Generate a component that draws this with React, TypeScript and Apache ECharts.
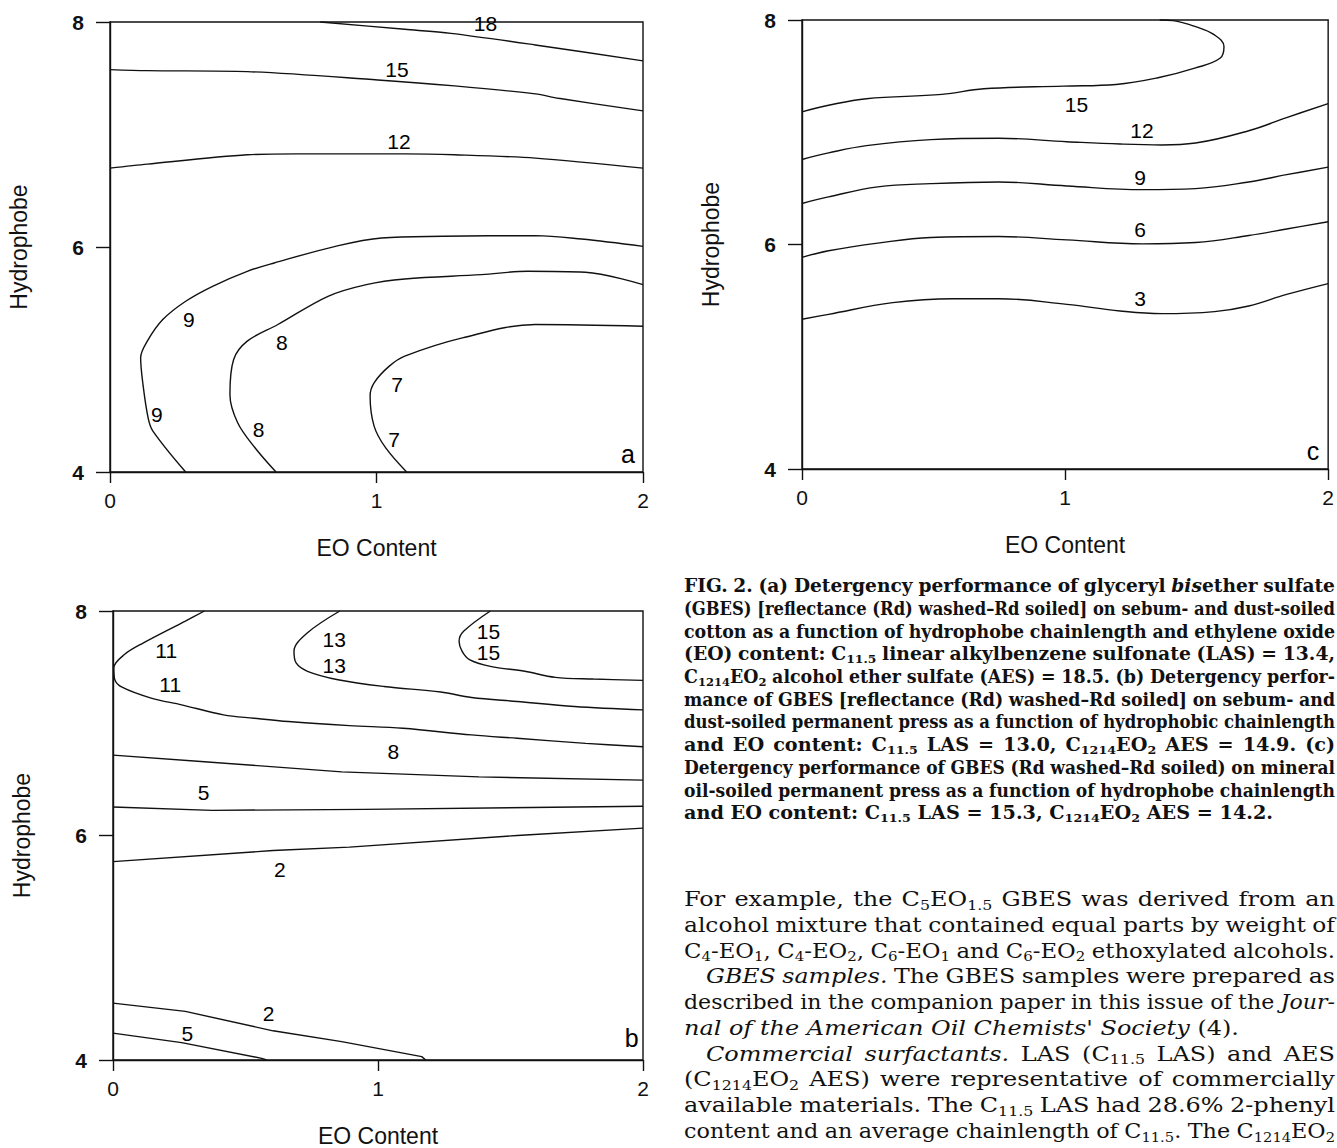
import React, { useEffect, useRef } from "react";
import * as echarts from "echarts";

// ---------------- DATA ----------------
const X_MIN = 0, X_MAX = 2, X_STEP = 1;
const Y_MIN = 4, Y_MAX = 8, Y_STEP = 2;
const X_NAME = "EO Content";
const Y_NAME = "Hydrophobe";

// Panel a contours [EO, hydrophobe]
const a18 = [[0.789, 8], [1.106, 7.935], [1.279, 7.899], [1.596, 7.796], [2, 7.654]];
const a15 = [[0, 7.577], [0.14, 7.568], [0.515, 7.559], [1.005, 7.485], [1.293, 7.432], [1.596, 7.361], [1.683, 7.322], [2, 7.21]];
const a12 = [[0, 6.701], [0.14, 6.737], [0.515, 6.82], [0.702, 6.828], [1.106, 6.828], [1.293, 6.82], [1.596, 6.79], [2, 6.701]];
const a9 = [[0.284, 4], [0.161, 4.364], [0.143, 4.482], [0.123, 4.793], [0.115, 5.015], [0.14, 5.163], [0.198, 5.355], [0.284, 5.518], [0.385, 5.651], [0.515, 5.784], [0.616, 5.858], [0.846, 6.006], [1.019, 6.08], [1.25, 6.095], [1.596, 6.101], [1.769, 6.071], [2, 6.006]];
const a8 = [[0.623, 4], [0.544, 4.216], [0.479, 4.438], [0.45, 4.689], [0.464, 5], [0.515, 5.163], [0.63, 5.311], [0.818, 5.562], [0.962, 5.666], [1.106, 5.716], [1.394, 5.754], [1.567, 5.784], [1.784, 5.775], [2, 5.666]];
const a7 = [[1.113, 4], [1.034, 4.216], [0.991, 4.408], [0.976, 4.675], [0.991, 4.793], [1.048, 4.941], [1.106, 5.03], [1.322, 5.192], [1.596, 5.311], [2, 5.296]];
const aLabels = [[1.409, 7.99, "18"], [1.077, 7.58, "15"], [1.084, 6.94, "12"], [0.296, 5.36, "9"], [0.176, 4.51, "9"], [0.645, 5.15, "8"], [0.558, 4.38, "8"], [1.077, 4.78, "7"], [1.066, 4.29, "7"]];

// Panel c contours
const c15 = [[0, 7.181], [0.101, 7.24], [0.245, 7.299], [0.532, 7.337], [0.691, 7.387], [0.993, 7.411], [1.194, 7.426], [1.353, 7.485], [1.496, 7.573], [1.59, 7.661], [1.604, 7.764], [1.568, 7.867], [1.496, 7.941], [1.41, 7.994], [1.36, 8]];
const c12 = [[0, 6.757], [0.101, 6.816], [0.245, 6.881], [0.489, 6.934], [0.748, 6.946], [1.007, 6.916], [1.209, 6.895], [1.367, 6.887], [1.496, 6.904], [1.698, 7.013], [1.842, 7.131], [2, 7.255]];
const c9 = [[0, 6.365], [0.101, 6.424], [0.288, 6.513], [0.489, 6.542], [0.748, 6.557], [1.007, 6.521], [1.295, 6.489], [1.496, 6.498], [1.698, 6.557], [1.842, 6.622], [2, 6.689]];
const c6 = [[0, 5.885], [0.101, 5.944], [0.288, 6.012], [0.489, 6.062], [0.748, 6.071], [1.007, 6.041], [1.295, 6.006], [1.496, 6.018], [1.698, 6.08], [1.842, 6.138], [2, 6.203]];
const c3 = [[0, 5.334], [0.101, 5.378], [0.345, 5.482], [0.576, 5.517], [0.748, 5.517], [1.007, 5.467], [1.209, 5.408], [1.367, 5.384], [1.568, 5.402], [1.698, 5.452], [1.842, 5.555], [2, 5.652]];
const cLabels = [[1.043, 7.25, "15"], [1.292, 7.02, "12"], [1.285, 6.6, "9"], [1.285, 6.136, "6"], [1.285, 5.517, "3"]];

// Panel b contours
const b11 = [[0.345, 8], [0.273, 7.91], [0.115, 7.716], [0.043, 7.612], [0.003, 7.493], [0.007, 7.388], [0.036, 7.319], [0.144, 7.224], [0.259, 7.164], [0.417, 7.075], [0.532, 7.045], [0.662, 7.015], [0.892, 6.979], [1.094, 6.955], [1.353, 6.896], [1.525, 6.866], [1.784, 6.821], [2, 6.791]];
const b13 = [[0.856, 8], [0.734, 7.806], [0.683, 7.642], [0.691, 7.537], [0.734, 7.463], [0.849, 7.388], [1.022, 7.328], [1.237, 7.278], [1.353, 7.23], [1.525, 7.194], [1.741, 7.149], [2, 7.119]];
const b15 = [[1.424, 8], [1.324, 7.821], [1.306, 7.731], [1.317, 7.642], [1.345, 7.567], [1.424, 7.507], [1.554, 7.463], [1.669, 7.409], [1.813, 7.394], [2, 7.382]];
const b8 = [[0, 6.716], [0.345, 6.657], [0.863, 6.567], [1.381, 6.522], [2, 6.493]];
const b5 = [[0, 6.254], [0.374, 6.224], [0.95, 6.233], [2, 6.26]];
const b2 = [[0, 5.767], [0.604, 5.866], [0.892, 5.896], [1.525, 6.0], [2, 6.066]];
const b2low = [[0, 4.507], [0.273, 4.433], [0.604, 4.26], [0.863, 4.164], [1.165, 4.03], [1.18, 4]];
const b5low = [[0, 4.239], [0.259, 4.155], [0.561, 4.015], [0.58, 4]];
const bLabels = [[0.201, 7.648, "11"], [0.216, 7.349, "11"], [0.835, 7.746, "13"], [0.835, 7.513, "13"], [1.417, 7.821, "15"], [1.417, 7.633, "15"], [1.058, 6.752, "8"], [0.342, 6.379, "5"], [0.63, 5.693, "2"], [0.587, 4.418, "2"], [0.281, 4.239, "5"]];

const panelLetters = [[1.944, 4.16, "a"], [1.942, 4.156, "c"], [1.957, 4.194, "b"]];

// Caption and body text (markup: *italic*, _{subscript})
const captionLines = [
  "FIG. 2. (a) Detergency performance of glyceryl *bis*ether sulfate",
  "(GBES) [reflectance (Rd) washed–Rd soiled] on sebum- and dust-soiled",
  "cotton as a function of hydrophobe chainlength and ethylene oxide",
  "(EO) content: C_{11.5} linear alkylbenzene sulfonate (LAS) = 13.4,",
  "C_{1214}EO_{2} alcohol ether sulfate (AES) = 18.5. (b) Detergency perfor-",
  "mance of GBES [reflectance (Rd) washed–Rd soiled] on sebum- and",
  "dust-soiled permanent press as a function of hydrophobic chainlength",
  "and EO content: C_{11.5} LAS = 13.0, C_{1214}EO_{2} AES = 14.9. (c)",
  "Detergency performance of GBES (Rd washed–Rd soiled) on mineral",
  "oil-soiled permanent press as a function of hydrophobe chainlength",
  "and EO content: C_{11.5} LAS = 15.3, C_{1214}EO_{2} AES = 14.2.",
];
const captionJustify = [true, true, true, true, true, true, true, true, true, true, false];

const bodyLines = [
  "For example, the C_{5}EO_{1.5} GBES was derived from an",
  "alcohol mixture that contained equal parts by weight of",
  "C_{4}-EO_{1}, C_{4}-EO_{2}, C_{6}-EO_{1} and C_{6}-EO_{2} ethoxylated alcohols.",
  "*GBES samples.* The GBES samples were prepared as",
  "described in the companion paper in this issue of the *Jour-*",
  "*nal of the American Oil Chemists' Society* (4).",
  "*Commercial surfactants.* LAS (C_{11.5} LAS) and AES",
  "(C_{1214}EO_{2} AES) were representative of commercially",
  "available materials. The C_{11.5} LAS had 28.6% 2-phenyl",
  "content and an average chainlength of C_{11.5}. The C_{1214}EO_{2}",
];
const bodyJustify = [true, true, true, true, true, false, true, true, true, true];
const bodyIndent = [0, 0, 0, 1, 0, 0, 1, 0, 0, 0];

// ---------------- STYLE / LAYOUT ----------------
const INK = "#111111";
const SANS = "'Liberation Sans', Arial, Helvetica, sans-serif";
const SERIF = "DejaVu Serif";

type Seg = { t: string; sub: boolean; it: boolean };

function parseLine(s: string): Seg[][] {
  const words: Seg[][] = [];
  let it = false;
  for (const w of s.split(" ").filter(Boolean)) {
    const segs: Seg[] = [];
    let buf = "";
    let i = 0;
    const flush = (sub: boolean) => {
      if (buf) segs.push({ t: buf, sub, it });
      buf = "";
    };
    while (i < w.length) {
      const ch = w[i];
      if (ch === "*") { flush(false); it = !it; i++; continue; }
      if (ch === "_" && w[i + 1] === "{") {
        flush(false);
        const end = w.indexOf("}", i);
        buf = w.slice(i + 2, end);
        flush(true);
        i = end + 1;
        continue;
      }
      buf += ch;
      i++;
    }
    flush(false);
    words.push(segs);
  }
  return words;
}

function layoutBlock(lines: string[], justify: boolean[], indents: number[], cfg: any) {
  const { left, right, y0, dy, size, bold, refIndex, refWidth, indentPx } = cfg;
  const ctx = document.createElement("canvas").getContext("2d") as CanvasRenderingContext2D;
  const subSize = size * 0.66;
  const font = (fs: number, it: boolean) => `${it ? "italic " : ""}${bold ? "bold " : ""}${fs}px '${SERIF}'`;
  const measure = (seg: Seg) => {
    ctx.font = font(seg.sub ? subSize : size, seg.it);
    return ctx.measureText(seg.t).width;
  };
  const parsed = lines.map(parseLine);
  const wordW = (w: Seg[]) => w.reduce((a, s) => a + measure(s), 0);
  ctx.font = font(size, false);
  const spaceW = ctx.measureText(" ").width;
  const ref = parsed[refIndex];
  const refNat = ref.reduce((a, w) => a + wordW(w), 0) + spaceW * (ref.length - 1);
  const sx = refWidth / refNat;
  const els: any[] = [];
  parsed.forEach((words, li) => {
    const y = y0 + dy * li;
    const x0 = left + (indents[li] || 0) * indentPx;
    const nat = words.map((w) => wordW(w));
    const natTotal = nat.reduce((a, b) => a + b, 0);
    const n = words.length;
    let lsx = sx;
    if (justify[li] && n > 1) {
      const minGap = spaceW * sx * 0.85;
      const fit = (right - x0 - minGap * (n - 1)) / natTotal;
      if (fit < sx) lsx = fit;
    }
    const ws = nat.map((v) => v * lsx);
    const total = natTotal * lsx;
    const gap = justify[li] && n > 1 ? (right - x0 - total) / (n - 1) : spaceW * lsx;
    let x = x0;
    words.forEach((w, wi) => {
      let xx = x;
      w.forEach((seg) => {
        els.push({
          type: "text",
          x: xx,
          y: seg.sub ? y + size * 0.28 : y,
          scaleX: lsx,
          silent: true,
          style: {
            text: seg.t,
            fontFamily: SERIF,
            fontSize: seg.sub ? subSize : size,
            fontWeight: bold ? "bold" : "normal",
            fontStyle: seg.it ? "italic" : "normal",
            fill: INK,
            align: "left",
            verticalAlign: "middle",
          },
        });
        xx += measure(seg) * lsx;
      });
      x += ws[wi] + gap;
    });
  });
  return els;
}

const grids = [
  { left: 110, top: 22, width: 533, height: 450 },
  { left: 802, top: 20, width: 531, height: 449 },
  { left: 113, top: 611, width: 530, height: 449 },
];

const panels = [
  { contours: [a18, a15, a12, a9, a8, a7], smooth: [0.3, 0.3, 0.3, 0.35, 0.35, 0.35], labels: aLabels },
  { contours: [c15, c12, c9, c6, c3], smooth: [0.4, 0.4, 0.4, 0.4, 0.4], labels: cLabels },
  { contours: [b11, b13, b15, b8, b5, b2, b2low, b5low], smooth: [0.35, 0.35, 0.35, 0, 0, 0, 0, 0], labels: bLabels },
];

function buildOption() {
  const xAxis = grids.map((_, i) => ({
    type: "value",
    gridIndex: i,
    min: X_MIN,
    max: X_MAX,
    interval: X_STEP,
    axisLine: { show: true, onZero: false, lineStyle: { color: INK, width: 1.4 } },
    axisTick: { show: true, inside: false, length: 11, lineStyle: { color: INK, width: 1.4 } },
    axisLabel: { fontSize: 21, color: INK, fontFamily: SANS, margin: 18 },
    splitLine: { show: false },
    name: X_NAME,
    nameLocation: "middle",
    nameGap: 64,
    nameTextStyle: { fontSize: 23, color: INK, fontFamily: SANS },
  }));
  const yAxis = grids.map((_, i) => ({
    type: "value",
    gridIndex: i,
    min: Y_MIN,
    max: Y_MAX,
    interval: Y_STEP,
    axisLine: { show: true, onZero: false, lineStyle: { color: INK, width: 1.4 } },
    axisTick: { show: true, inside: false, length: 14, lineStyle: { color: INK, width: 1.4 } },
    axisLabel: { fontSize: 21, fontWeight: "bold", color: INK, fontFamily: SANS, margin: 26 },
    splitLine: { show: false },
    name: Y_NAME,
    nameLocation: "middle",
    nameGap: 80,
    nameTextStyle: { fontSize: 23, color: INK, fontFamily: SANS },
  }));
  const series: any[] = [];
  const labelSeries = (i: number, items: any[], fontSize: number) => ({
    type: "scatter",
    xAxisIndex: i,
    yAxisIndex: i,
    symbol: "circle",
    symbolSize: 2,
    silent: true,
    z: 5,
    itemStyle: { color: "rgba(255,255,255,0)" },
    data: items.map((l) => ({ value: [l[0], l[1]], name: String(l[2]) })),
    label: {
      show: true,
      position: "inside",
      formatter: "{b}",
      fontSize,
      color: "#000",
      fontFamily: SANS,
      textBorderWidth: 0,
      textBorderColor: "transparent",
      opacity: 1,
    },
    labelLayout: { hideOverlap: false },
  });
  panels.forEach((p, i) => {
    p.contours.forEach((c, k) => {
      series.push({
        type: "line",
        xAxisIndex: i,
        yAxisIndex: i,
        data: c,
        showSymbol: false,
        symbol: "none",
        smooth: p.smooth[k],
        silent: true,
        clip: false,
        lineStyle: { color: INK, width: 1.4 },
      });
    });
    series.push(labelSeries(i, p.labels, 21));
    series.push(labelSeries(i, [panelLetters[i]], 25));
  });

  const caption = layoutBlock(captionLines, captionJustify, captionLines.map(() => 0), {
    left: 684, right: 1335, y0: 586, dy: 22.7, size: 18, bold: true, refIndex: 10, refWidth: 589, indentPx: 0,
  });
  const body = layoutBlock(bodyLines, bodyJustify, bodyIndent, {
    left: 684, right: 1335, y0: 899, dy: 25.8, size: 20, bold: false, refIndex: 5, refWidth: 555, indentPx: 22,
  });

  return {
    animation: false,
    backgroundColor: "#ffffff",
    grid: grids.map((g) => ({ ...g, show: true, borderColor: INK, borderWidth: 1.4, backgroundColor: "transparent" })),
    xAxis,
    yAxis,
    series,
    graphic: { elements: [...caption, ...body] },
  };
}

export default function App() {
  const ref = useRef<HTMLDivElement>(null);
  useEffect(() => {
    if (!ref.current) return;
    const chart = echarts.init(ref.current, undefined, { renderer: "svg" });
    chart.setOption(buildOption() as any);
    return () => chart.dispose();
  }, []);
  return (
    <div
      ref={ref}
      style={{ position: "absolute", left: 0, top: 0, width: 1337, height: 1148, background: "#fff" }}
    />
  );
}
